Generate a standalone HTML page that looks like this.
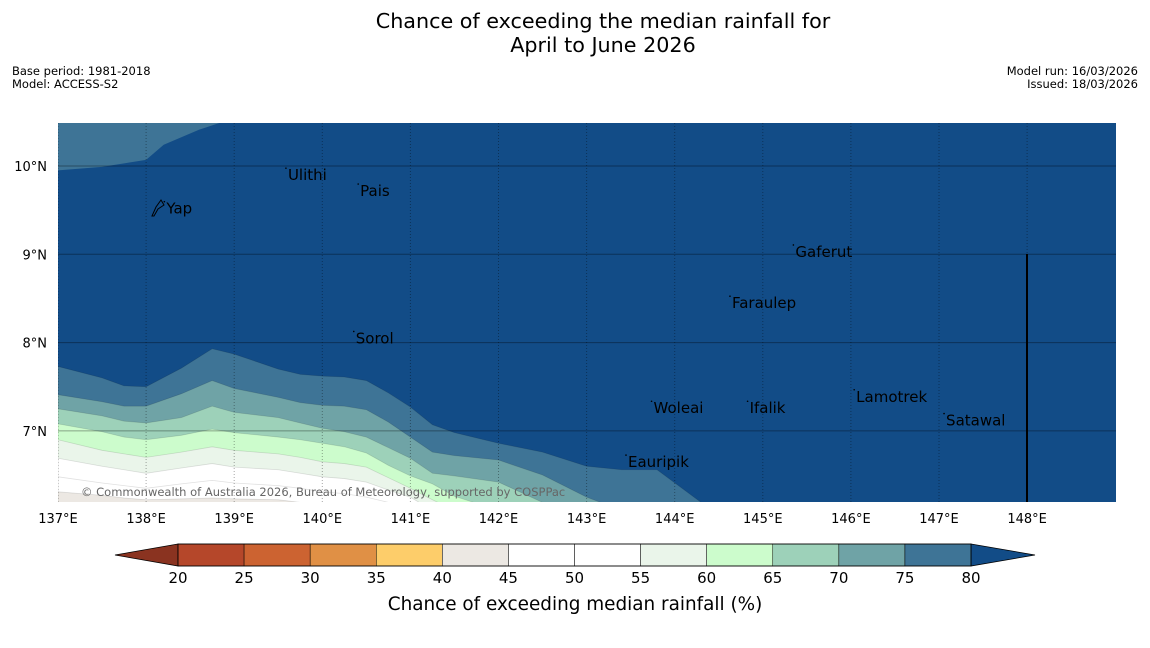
<!DOCTYPE html>
<html><head><meta charset="utf-8"><style>
body{margin:0;background:#fff;width:1150px;height:644px;overflow:hidden;font-family:"DejaVu Sans","Liberation Sans",sans-serif}
</style></head><body>
<svg width="1150" height="644" xmlns="http://www.w3.org/2000/svg" font-family="DejaVu Sans, Liberation Sans, sans-serif">
<text x="603" y="28" font-size="20.7" text-anchor="middle">Chance of exceeding the median rainfall for</text>
<text x="603" y="52" font-size="20.7" text-anchor="middle">April to June 2026</text>
<text x="12" y="75" font-size="11.5">Base period: 1981-2018</text>
<text x="12" y="88" font-size="11.5">Model: ACCESS-S2</text>
<text x="1138" y="75" font-size="11.5" text-anchor="end">Model run: 16/03/2026</text>
<text x="1138" y="88" font-size="11.5" text-anchor="end">Issued: 18/03/2026</text>
<defs><clipPath id="mapclip"><rect x="58" y="123" width="1058" height="379"/></clipPath></defs>
<g id="map" clip-path="url(#mapclip)"></g>
<g id="overlay"></g>
<g id="cbar"></g>
<text x="575" y="610" font-size="18.4" text-anchor="middle">Chance of exceeding median rainfall (%)</text>
</svg>
<script>
const lons=[137,137.5,137.75,138,138.4,138.75,139,139.5,139.75,140,140.25,140.5,140.75,141,141.25,141.5,142,142.5,143,143.4,143.8,144.3,144.5];
const b80=[7.73,7.60,7.51,7.50,7.71,7.93,7.87,7.70,7.64,7.62,7.61,7.57,7.43,7.27,7.07,6.98,6.86,6.76,6.60,6.56,6.56,6.19,5.99];
const b75=[7.41,7.33,7.28,7.28,7.42,7.57,7.48,7.38,7.32,7.29,7.28,7.24,7.10,6.93,6.76,6.72,6.67,6.50,6.25,6.10,5.99,5.9,5.9];
const b70=[7.25,7.17,7.11,7.09,7.15,7.28,7.21,7.15,7.09,7.03,6.99,6.93,6.81,6.69,6.52,6.49,6.42,6.19,6.05,5.9,5.9,5.9,5.9];
const b65=[7.08,6.99,6.93,6.90,6.95,7.02,6.98,6.93,6.90,6.86,6.82,6.75,6.61,6.49,6.40,6.26,6.10,5.9,5.9,5.9,5.9,5.9,5.9];
const b60=[6.90,6.78,6.74,6.70,6.76,6.82,6.78,6.74,6.70,6.65,6.63,6.59,6.47,6.35,6.22,6.10,5.9,5.9,5.9,5.9,5.9,5.9,5.9];
const b55=[6.69,6.60,6.56,6.52,6.58,6.63,6.59,6.56,6.52,6.48,6.46,6.42,6.33,6.25,6.10,5.9,5.9,5.9,5.9,5.9,5.9,5.9,5.9];
const b50=[6.48,6.41,6.38,6.35,6.40,6.44,6.41,6.38,6.35,6.31,6.29,6.25,6.19,6.10,5.9,5.9,5.9,5.9,5.9,5.9,5.9,5.9,5.9];
const b45=[6.31,6.27,6.24,6.22,6.23,6.24,6.23,6.22,6.19,6.16,6.10,5.9,5.9,5.9,5.9,5.9,5.9,5.9,5.9,5.9,5.9,5.9,5.9];
const topLons=[137,137.5,138,138.2,138.6,138.84,139];
const topLats=[9.95,9.99,10.07,10.24,10.41,10.49,10.6];
const levels=[15,20,25,30,35,40,45,50,55,60,65,70,75,80];
const colors=["#8a3320","#b5472a","#cc6331","#e09045","#fdcd6a","#ece8e3","#ffffff","#ffffff","#eaf5ea","#ccfccc","#9dd1b9","#6fa3a6","#3e7496","#124c87"];
const lonTicks=[137,138,139,140,141,142,143,144,145,146,147,148];
const latTicks=[7,8,9,10];
const islands=[["Ulithi",139.61,9.84],["Pais",140.43,9.66],["Yap",138.23,9.46],["Gaferut",145.37,8.97],["Faraulep",144.65,8.39],["Sorol",140.38,7.99],["Woleai",143.76,7.2],["Ifalik",144.85,7.2],["Lamotrek",146.06,7.33],["Satawal",147.08,7.06],["Eauripik",143.47,6.59]];
const cbTicks=[20,25,30,35,40,45,50,55,60,65,70,75,80];

const NS="http://www.w3.org/2000/svg";
const X=lon=>58+(lon-137)*88.1;
const Y=lat=>166-(lat-10)*88.3;
const CX=v=>178+(v-20)*13.217;
function mk(tag,attrs,parent){const e=document.createElementNS(NS,tag);for(const k in attrs)e.setAttribute(k,attrs[k]);parent.appendChild(e);return e;}
const map=document.getElementById('map');
const bg=mk('rect',{x:58,y:123,width:1058,height:379,fill:colors[13]},map);


let d='M'+X(topLons[0])+','+Y(topLats[0]);
topLons.forEach((l,i)=>{d+=' L'+X(l)+','+Y(topLats[i]);});
d+=' L'+X(139)+',100 L'+X(137)+',100 Z';
const tp=mk('path',{d:d,fill:colors[12]},map);


const bounds=[[b80,12,'band-75-80'],[b75,11,'band-70-75'],[b70,10,'band-65-70'],[b65,9,'band-60-65'],[b60,8,'band-55-60'],[b55,7,'band-50-55'],[b50,6,'band-45-50'],[b45,5,'band-40-45']];
bounds.forEach(([arr,ci,name])=>{
  let p='M'+X(lons[0])+','+Y(arr[0]);
  lons.forEach((l,i)=>{p+=' L'+X(l)+','+Y(arr[i]);});
  p+=' L'+X(lons[lons.length-1])+',560 L'+X(lons[0])+',560 Z';
  const e=mk('path',{d:p,fill:colors[ci],stroke:'rgba(0,0,0,0.12)','stroke-width':0.8},map);
  
  
});
lonTicks.forEach(l=>{
  const g=mk('line',{x1:X(l),x2:X(l),y1:123,y2:502,stroke:'rgba(0,0,0,0.35)','stroke-width':1,'stroke-dasharray':'1,2'},map);
  
  
  const t=mk('text',{x:X(l),y:523,'font-size':13,'text-anchor':'middle'},document.getElementById('overlay'));
  t.textContent=l+'°E';
  
  
});
latTicks.forEach(l=>{
  const g=mk('line',{x1:58,x2:1116,y1:Y(l),y2:Y(l),stroke:'rgba(0,0,0,0.35)','stroke-width':1},map);
  
  
  const t=mk('text',{x:47,y:Y(l)+5,'font-size':13,'text-anchor':'end'},document.getElementById('overlay'));
  t.textContent=l+'°N';
  
  
});
const bl=mk('line',{x1:1027,x2:1027,y1:254,y2:502,stroke:'#000','stroke-width':2},map);


const ov=document.getElementById('overlay');
islands.forEach(([n,lo,la])=>{
  const dot=mk('circle',{cx:X(lo)-2,cy:Y(la)-12,r:0.8,fill:'#000'},ov);
  
  
  const t=mk('text',{x:X(lo),y:Y(la),'font-size':15,fill:'#000'},ov);
  t.textContent=n;
  
  
});
const yi=mk('path',{d:'M152,216 L156,207 L161,200 L164,205 L158,209 L154,216 Z',fill:'none',stroke:'#000','stroke-width':1},ov);


const cp=mk('text',{x:81,y:496,'font-size':11.5,fill:'#666'},ov);
cp.textContent='© Commonwealth of Australia 2026, Bureau of Meteorology, supported by COSPPac';


const cb=document.getElementById('cbar');
const lt=mk('path',{d:`M${CX(20)},544 L115,555 L${CX(20)},566 Z`,fill:colors[0],stroke:'#000','stroke-width':0.8},cb);


const rt=mk('path',{d:`M${CX(80)},544 L1035,555 L${CX(80)},566 Z`,fill:colors[13],stroke:'#000','stroke-width':0.8},cb);


for(let i=1;i<13;i++){
  const r=mk('rect',{x:CX(levels[i]),y:544,width:CX(levels[i+1])-CX(levels[i]),height:22,fill:colors[i],stroke:'#000','stroke-width':0.5},cb);
  
  
}
mk('rect',{x:CX(20),y:544,width:CX(80)-CX(20),height:22,fill:'none',stroke:'#000','stroke-width':0.8},cb);
cbTicks.forEach(v=>{
  const t=mk('text',{x:CX(v),y:583,'font-size':15,'text-anchor':'middle'},cb);
  t.textContent=v;
  
  
});
</script>
</body></html>
